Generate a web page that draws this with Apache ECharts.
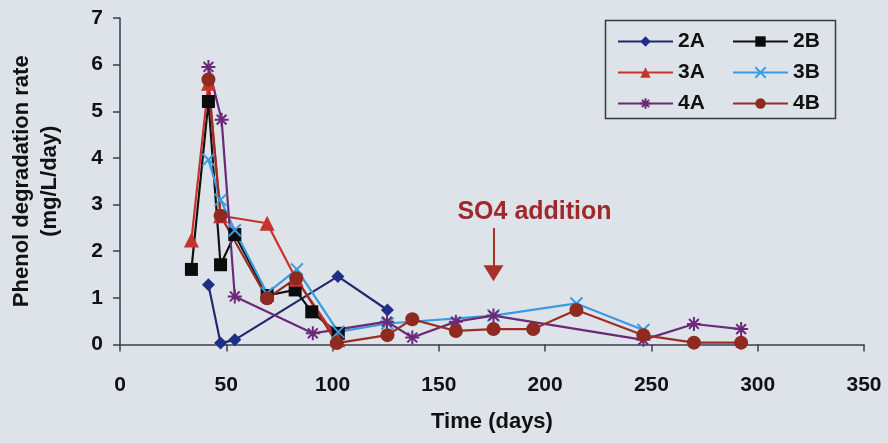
<!DOCTYPE html>
<html>
<head>
<meta charset="utf-8">
<script src="https://cdn.jsdelivr.net/npm/echarts@6/dist/echarts.min.js"></script>
<style>html,body{margin:0;padding:0;background:#dde3e9;}#c{width:888px;height:443px;}</style>
</head>
<body>
<div id="c"></div>
<script>
// ---- data (days, phenol degradation rate mg/L/day) ----
var days2A = [41.6, 47.3, 54, 102.5, 125.8];
var rate2A = [1.28, 0.03, 0.1, 1.46, 0.74];
var days2B = [33.6, 41.6, 47.3, 54, 69.2, 82.4, 90.2, 102.7];
var rate2B = [1.61, 5.21, 1.71, 2.36, 1.05, 1.17, 0.7, 0.24];
var days3A = [33.6, 41.6, 47.3, 69.2, 82.9, 102.5];
var rate3A = [2.24, 5.6, 2.76, 2.6, 1.4, 0.1];
var days3B = [41.6, 47.3, 54, 69.2, 83.2, 102.7, 125.8, 175.7, 214.7, 246.2];
var rate3B = [3.96, 3.1, 2.45, 1.1, 1.61, 0.27, 0.45, 0.62, 0.88, 0.31];
var days4A = [41.6, 47.8, 54, 90.7, 125.6, 137.5, 158, 175.7, 246.2, 270, 292.2];
var rate4A = [5.95, 4.82, 1.03, 0.24, 0.49, 0.15, 0.49, 0.62, 0.1, 0.44, 0.33];
var days4B = [41.6, 47.3, 69.2, 82.9, 102, 125.8, 137.5, 158, 175.7, 194.4, 214.7, 246.2, 270, 292.2];
var rate4B = [5.68, 2.76, 0.99, 1.42, 0.03, 0.2, 0.54, 0.29, 0.33, 0.33, 0.74, 0.2, 0.04, 0.04];
var xTicks = [0, 50, 100, 150, 200, 250, 300, 350];
var yTicks = [0, 1, 2, 3, 4, 5, 6, 7];
var annotationText = 'SO4 addition';
var annotationDay = 175.7;
var arrowFrom = 2.5, arrowTo = 1.53;
var annotationLabelPos = [195, 2.83];

function pairs(xs, ys) { return xs.map(function (x, i) { return [x, ys[i]]; }); }

var FONT = 'Liberation Sans, Arial, sans-serif';
var crossPath = 'path://M0,0L10,10M10,0L0,10';
var starPath = 'path://M0,5L10,5M5,0L5,10M1.5,1.5L8.5,8.5M8.5,1.5L1.5,8.5';

function mk(name, xs, ys, lineColor, symbol, size, fill, stroke, bw) {
  return {
    name: name, type: 'line', data: pairs(xs, ys),
    symbol: symbol, symbolSize: size, showAllSymbol: true,
    lineStyle: { color: lineColor, width: 2.2 },
    itemStyle: { color: fill, borderColor: stroke, borderWidth: bw },
    z: 3
  };
}

var series = [
  mk('2A', days2A, rate2A, '#1f2a6e', 'diamond', 13, '#1f2f86', '#1f2f86', 0),
  mk('2B', days2B, rate2B, '#111111', 'rect', 13, '#0c0c0c', '#0c0c0c', 0),
  mk('3A', days3A, rate3A, '#c8322c', 'triangle', 15, '#c8322c', '#c8322c', 0),
  mk('3B', days3B, rate3B, '#3c9be0', crossPath, 12, 'none', '#3c9be0', 2),
  mk('4A', days4A, rate4A, '#6a2a78', starPath, 14, 'none', '#6a2a78', 2),
  mk('4B', days4B, rate4B, '#9a2e26', 'circle', 14, '#8f2a20', '#8f2a20', 0)
];
series[5].markLine = {
  silent: true,
  symbol: ['none', 'triangle'],
  symbolSize: [20, 16],
  lineStyle: { color: '#a8302a', width: 2, type: 'solid' },
  label: { show: false },
  data: [[{ coord: [annotationDay, arrowFrom] }, { coord: [annotationDay, arrowTo] }]]
};
series[5].markPoint = {
  silent: true,
  symbol: 'circle', symbolSize: 0,
  label: { show: true, formatter: annotationText, color: '#a0282a', fontFamily: FONT, fontWeight: 'bold', fontSize: 25 },
  data: [{ coord: annotationLabelPos }]
};

var chart = echarts.init(document.getElementById('c'), null, { renderer: 'canvas' });
chart.setOption({
  backgroundColor: '#dde3e9',
  animation: false,
  grid: { left: 115, top: 18, right: 24, bottom: 98.5, containLabel: false },
  xAxis: {
    type: 'value', min: xTicks[0], max: xTicks[xTicks.length - 1], interval: 50,
    name: 'Time (days)', nameLocation: 'middle', nameGap: 66,
    nameTextStyle: { fontFamily: FONT, fontWeight: 'bold', fontSize: 22, color: '#111' },
    axisLine: { lineStyle: { color: '#3a3f4a', width: 1.5 } },
    axisTick: { show: true, inside: false, length: 7, lineStyle: { color: '#3a3f4a', width: 1.5 } },
    axisLabel: { margin: 30, fontFamily: FONT, fontWeight: 'bold', fontSize: 21, color: '#111' },
    splitLine: { show: false }
  },
  yAxis: {
    type: 'value', min: yTicks[0], max: yTicks[yTicks.length - 1], interval: 1,
    name: 'Phenol degradation rate\n(mg/L/day)', nameLocation: 'middle', nameGap: 56, nameRotate: 90,
    nameTextStyle: { fontFamily: FONT, fontWeight: 'bold', fontSize: 22, color: '#111', lineHeight: 28 },
    axisLine: { lineStyle: { color: '#3a3f4a', width: 1.5 } },
    axisTick: { show: true, inside: false, length: 7, lineStyle: { color: '#3a3f4a', width: 1.5 } },
    axisLabel: { margin: 17, fontFamily: FONT, fontWeight: 'bold', fontSize: 21, color: '#111' },
    splitLine: { show: false }
  },
  legend: [
    { data: ['2A', '3A', '4A'], orient: 'vertical', left: 612, top: 26, itemWidth: 55, itemHeight: 13, itemGap: 10,
      textStyle: { fontFamily: FONT, fontWeight: 'bold', fontSize: 21, color: '#111' } },
    { data: ['2B', '3B', '4B'], orient: 'vertical', left: 727, top: 26, itemWidth: 55, itemHeight: 13, itemGap: 10,
      textStyle: { fontFamily: FONT, fontWeight: 'bold', fontSize: 21, color: '#111' } }
  ],
  graphic: [{
    type: 'rect', left: 603, top: 18, shape: { width: 230, height: 98 },
    style: { fill: 'none', stroke: '#3a3a3a', lineWidth: 1.5 }, z: 1
  }],
  series: series
});
</script>
</body>
</html>
